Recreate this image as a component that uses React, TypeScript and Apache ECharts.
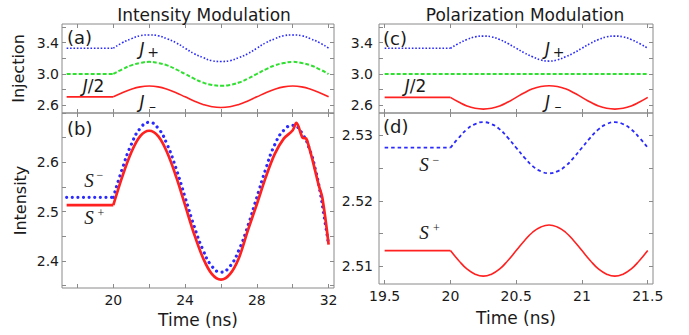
import React, { useEffect, useRef } from "react";
import * as echarts from "echarts";

// ---------- data: panels (a)/(b), time in ns ----------
const timeFlatAB = [17.4, 20];
const timeAB = [20, 20.5, 21, 21.5, 22, 22.5, 23, 23.5, 24, 24.5, 25, 25.5, 26, 26.5, 27, 27.5, 28, 28.5, 29, 29.5, 30, 30.5, 31, 31.5, 32];
const jPlusFlatA = [3.33, 3.33];
const jPlusA = [3.33, 3.4, 3.45, 3.49, 3.5, 3.49, 3.45, 3.4, 3.33, 3.26, 3.21, 3.17, 3.16, 3.17, 3.21, 3.26, 3.33, 3.4, 3.45, 3.49, 3.5, 3.49, 3.45, 3.4, 3.33];
const jHalfFlatA = [3.0, 3.0];
const jHalfA = [3.0, 3.06, 3.11, 3.14, 3.155, 3.14, 3.11, 3.06, 3.0, 2.94, 2.89, 2.86, 2.85, 2.86, 2.89, 2.94, 3.0, 3.06, 3.11, 3.14, 3.155, 3.14, 3.11, 3.06, 3.0];
const jMinusFlatA = [2.707, 2.707];
const jMinusA = [2.707, 2.76, 2.805, 2.835, 2.845, 2.835, 2.805, 2.76, 2.707, 2.654, 2.609, 2.58, 2.57, 2.58, 2.609, 2.654, 2.707, 2.76, 2.805, 2.835, 2.845, 2.835, 2.805, 2.76, 2.707];

const sMinusFlatB = [2.529, 2.529];
const timeSMinusB = [20, 20.5, 21, 21.5, 22, 22.5, 23, 23.5, 24, 24.5, 25, 25.5, 26, 26.5, 27, 27.5, 28, 28.5, 29, 29.5, 30, 30.5, 31, 31.25, 31.5, 31.75, 32];
const sMinusB = [2.529, 2.587, 2.636, 2.669, 2.681, 2.669, 2.636, 2.587, 2.529, 2.471, 2.422, 2.389, 2.377, 2.389, 2.422, 2.471, 2.529, 2.587, 2.636, 2.665, 2.675, 2.66, 2.62, 2.587, 2.545, 2.49, 2.433];
const sPlusFlatB = [2.513, 2.513];
const timeSPlusB = [20, 20.5, 21, 21.5, 22, 22.5, 23, 23.5, 24, 24.5, 25, 25.5, 26, 26.5, 27, 27.5, 28, 28.5, 29, 29.5, 30, 30.2, 30.55, 30.75, 30.9, 31.1, 31.35, 31.45, 31.65, 32];
const sPlusB = [2.513, 2.571, 2.62, 2.653, 2.664, 2.653, 2.62, 2.571, 2.513, 2.455, 2.406, 2.373, 2.362, 2.373, 2.406, 2.462, 2.515, 2.57, 2.617, 2.648, 2.665, 2.68, 2.65, 2.648, 2.632, 2.605, 2.568, 2.553, 2.528, 2.433];

// ---------- data: panels (c)/(d) ----------
const timeFlatCD = [19.5, 20];
const timeCD = [20, 20.0625, 20.125, 20.1875, 20.25, 20.3125, 20.375, 20.4375, 20.5, 20.5625, 20.625, 20.6875, 20.75, 20.8125, 20.875, 20.9375, 21, 21.0625, 21.125, 21.1875, 21.25, 21.3125, 21.375, 21.4375, 21.5];
const jPlusFlatC = [3.33, 3.33];
const jPlusC = [3.33, 3.39, 3.44, 3.475, 3.485, 3.475, 3.44, 3.39, 3.33, 3.27, 3.22, 3.18, 3.165, 3.18, 3.22, 3.27, 3.33, 3.39, 3.44, 3.475, 3.485, 3.475, 3.44, 3.39, 3.33];
const timeHalfC = [19.5, 21.5];
const jHalfC = [3.0, 3.0];
const jMinusFlatC = [2.7, 2.7];
const jMinusC = [2.7, 2.64, 2.59, 2.56, 2.55, 2.56, 2.59, 2.64, 2.7, 2.76, 2.81, 2.84, 2.85, 2.84, 2.81, 2.76, 2.7, 2.64, 2.59, 2.56, 2.55, 2.56, 2.59, 2.64, 2.7];
const sMinusFlatD = [2.5281, 2.5281];
const sMinusD = [2.5281, 2.5296, 2.5309, 2.5317, 2.532, 2.5317, 2.5309, 2.5296, 2.5281, 2.5266, 2.5253, 2.5245, 2.5242, 2.5245, 2.5253, 2.5266, 2.5281, 2.5296, 2.5309, 2.5317, 2.532, 2.5317, 2.5309, 2.5296, 2.5281];
const sPlusFlatD = [2.5124, 2.5124];
const sPlusD = [2.5124, 2.5109, 2.5096, 2.5088, 2.5085, 2.5088, 2.5096, 2.5109, 2.5124, 2.5139, 2.5152, 2.516, 2.5163, 2.516, 2.5152, 2.5139, 2.5124, 2.5109, 2.5096, 2.5088, 2.5085, 2.5088, 2.5096, 2.5109, 2.5124];

// ---------- ticks / labels ----------
const xTicksAB = [18, 20, 22, 24, 26, 28, 30, 32];
const xLabelsAB = [20, 24, 28, 32];
const xTicksCD = [19.5, 20, 20.5, 21, 21.5];
const xLabelsCD = [19.5, 20, 20.5, 21, 21.5];
const yTicksAC = [2.6, 2.8, 3.0, 3.2, 3.4, 3.6];
const yLabelsAC = [2.6, 3.0, 3.4];
const yTicksB = [2.35, 2.4, 2.45, 2.5, 2.55, 2.6, 2.65, 2.7];
const yLabelsB = [2.4, 2.5, 2.6];
const yTicksD = [2.51, 2.515, 2.52, 2.525, 2.53];
const yLabelsD = [2.51, 2.52, 2.53];

const SANS = "'DejaVu Sans', sans-serif";
const SERIF = "'Liberation Serif', 'DejaVu Serif', serif";
const RED = "#ff2020";
const BLUE = "#2a2aff";
const GREEN = "#30e030";
const FRAME = "#8a8a8a";
const TXT = "#1a1a1a";

function pairs(xs: number[], ys: number[]) {
  return xs.map((x, i) => [x, ys[i]]);
}

function line(g: number, xs: number[], ys: number[], color: string, width: number, type: any, smooth: any, cap = "butt") {
  return {
    type: "line",
    xAxisIndex: 2 * g,
    yAxisIndex: 2 * g,
    data: pairs(xs, ys),
    symbol: "none",
    showSymbol: false,
    smooth,
    silent: true,
    lineStyle: { color, width, type, cap },
  };
}

const tickStyle = (vals: number[]) => ({
  show: true,
  inside: true,
  length: 4,
  customValues: vals,
  lineStyle: { color: FRAME, width: 1 },
});

function xAxis(g: number, min: number, max: number, ticks: number[], labels: number[] | null, position: string, name?: string, nameGap?: number) {
  return {
    type: "value",
    gridIndex: g,
    position,
    min,
    max,
    axisLine: { show: false },
    splitLine: { show: false },
    axisTick: tickStyle(ticks),
    axisLabel: labels
      ? { show: true, customValues: labels, fontSize: 14, fontFamily: SANS, color: TXT, margin: 5, formatter: (v: number) => String(v) }
      : { show: false },
    name: name || "",
    nameLocation: "middle",
    nameGap: nameGap || 0,
    nameTextStyle: { fontSize: 17, fontFamily: SANS, color: TXT },
  };
}

function yAxis(g: number, min: number, max: number, ticks: number[], labels: number[] | null, position: string, margin: number, fmt?: (v: number) => string, name?: string, nameGap?: number) {
  return {
    type: "value",
    gridIndex: g,
    position,
    min,
    max,
    axisLine: { show: false },
    splitLine: { show: false },
    axisTick: tickStyle(ticks),
    axisLabel: labels
      ? { show: true, customValues: labels, fontSize: 14, fontFamily: SANS, color: TXT, margin, formatter: fmt }
      : { show: false },
    name: name || "",
    nameLocation: "middle",
    nameGap: nameGap || 0,
    nameTextStyle: { fontSize: 16, fontFamily: SANS, color: TXT },
  };
}

function txt(text: string, x: number, y: number, size: number, opts: any = {}) {
  return {
    type: "text",
    x,
    y,
    silent: true,
    style: {
      text,
      fontSize: size,
      fontFamily: opts.family || SANS,
      fontStyle: opts.italic ? "italic" : "normal",
      fill: TXT,
      align: opts.align || "center",
      textAlign: opts.align || "center",
      verticalAlign: "middle",
      textVerticalAlign: "middle",
      rich: opts.rich,
    },
  };
}

export default function App() {
  const ref = useRef<HTMLDivElement>(null);
  useEffect(() => {
    if (!ref.current) return;
    const chart = echarts.init(ref.current, null, { renderer: "svg" });
    const xA = [17.14, 32.3];
    const xC = [19.457, 21.54];
    const yA = [2.5, 3.64];
    const yB = [2.345, 2.7];
    const yD = [2.5073, 2.5334];
    const f1 = (v: number) => v.toFixed(1);
    const f2 = (v: number) => v.toFixed(2);

    const option: any = {
      animation: false,
      grid: [
        { left: 62, top: 24, width: 272, height: 89, show: true, borderColor: FRAME, borderWidth: 1 },
        { left: 62, top: 113, width: 272, height: 175, show: true, borderColor: FRAME, borderWidth: 1 },
        { left: 379, top: 24, width: 274, height: 89, show: true, borderColor: FRAME, borderWidth: 1 },
        { left: 379, top: 113, width: 274, height: 171, show: true, borderColor: FRAME, borderWidth: 1 },
      ],
      xAxis: [
        xAxis(0, xA[0], xA[1], xTicksAB, null, "bottom"),
        xAxis(0, xA[0], xA[1], xTicksAB, null, "top"),
        xAxis(1, xA[0], xA[1], xTicksAB, xLabelsAB, "bottom", "Time (ns)", 21),
        xAxis(1, xA[0], xA[1], xTicksAB, null, "top"),
        xAxis(2, xC[0], xC[1], xTicksCD, null, "bottom"),
        xAxis(2, xC[0], xC[1], xTicksCD, null, "top"),
        xAxis(3, xC[0], xC[1], xTicksCD, xLabelsCD, "bottom", "Time (ns)", 25),
        xAxis(3, xC[0], xC[1], xTicksCD, null, "top"),
      ],
      yAxis: [
        yAxis(0, yA[0], yA[1], yTicksAC, yLabelsAC, "left", 3, f1, "Injection", 36),
        yAxis(0, yA[0], yA[1], yTicksAC, null, "right", 0),
        yAxis(1, yB[0], yB[1], yTicksB, yLabelsB, "left", 3, f1, "Intensity", 34),
        yAxis(1, yB[0], yB[1], yTicksB, null, "right", 0),
        yAxis(2, yA[0], yA[1], yTicksAC, yLabelsAC, "left", 6, f1),
        yAxis(2, yA[0], yA[1], yTicksAC, null, "right", 0),
        yAxis(3, yD[0], yD[1], yTicksD, yLabelsD, "left", 6, f2),
        yAxis(3, yD[0], yD[1], yTicksD, null, "right", 0),
      ],
      series: [
        // (a)
        line(0, timeFlatAB, jPlusFlatA, BLUE, 1.6, [1.6, 1.8], false),
        line(0, timeAB, jPlusA, BLUE, 1.6, [1.6, 1.8], true),
        line(0, timeFlatAB, jHalfFlatA, GREEN, 2, [4, 2], false),
        line(0, timeAB, jHalfA, GREEN, 2, [4, 2], true),
        line(0, timeFlatAB, jMinusFlatA, RED, 1.6, "solid", false),
        line(0, timeAB, jMinusA, RED, 1.6, "solid", true),
        // (b)
        line(1, timeFlatAB, sMinusFlatB, BLUE, 3.2, [0.01, 5.6], false, "round"),
        line(1, timeSMinusB, sMinusB, BLUE, 3.2, [0.01, 5.6], true, "round"),
        line(1, timeFlatAB, sPlusFlatB, RED, 2.7, "solid", false),
        line(1, timeSPlusB, sPlusB, RED, 2.7, "solid", 0.35),
        // (c)
        line(2, timeFlatCD, jPlusFlatC, BLUE, 1.6, [1.6, 1.8], false),
        line(2, timeCD, jPlusC, BLUE, 1.6, [1.6, 1.8], true),
        line(2, timeHalfC, jHalfC, GREEN, 2, [4, 2], false),
        line(2, timeFlatCD, jMinusFlatC, RED, 1.6, "solid", false),
        line(2, timeCD, jMinusC, RED, 1.6, "solid", true),
        // (d)
        line(3, timeFlatCD, sMinusFlatD, BLUE, 1.8, [3.5, 3], false),
        line(3, timeCD, sMinusD, BLUE, 1.8, [3.5, 3], true),
        line(3, timeFlatCD, sPlusFlatD, RED, 1.6, "solid", false),
        line(3, timeCD, sPlusD, RED, 1.6, "solid", true),
      ],
      graphic: [
        txt("Intensity Modulation", 204, 15, 17),
        txt("Polarization Modulation", 525, 15, 17),
        txt("(a)", 67, 37.5, 18, { align: "left" }),
        txt("(b)", 67, 128, 18, { align: "left" }),
        txt("(c)", 383, 38.5, 18, { align: "left" }),
        txt("(d)", 383, 126.5, 18, { align: "left" }),
        // J annotations (a)
        txt("J", 142, 48.5, 17, { italic: true }),
        txt("+", 153, 52, 14),
        txt("{i|J}/2", 93.5, 86, 17, { rich: { i: { fontStyle: "italic", fontSize: 17, fontFamily: SANS, fill: TXT } } }),
        txt("J", 142, 101.5, 17, { italic: true }),
        txt("\u2013", 152.5, 106, 14),
        // J annotations (c)
        txt("J", 547.5, 48.5, 17, { italic: true }),
        txt("+", 558.5, 52, 14),
        txt("{i|J}/2", 415.5, 86, 17, { rich: { i: { fontStyle: "italic", fontSize: 17, fontFamily: SANS, fill: TXT } } }),
        txt("J", 547.5, 101.5, 17, { italic: true }),
        txt("\u2013", 558, 106, 14),
        // S annotations (b)
        txt("S", 89, 180, 19, { italic: true, family: SERIF }),
        txt("\u2212", 100, 175, 12, { family: SERIF }),
        txt("S", 89, 217.5, 19, { italic: true, family: SERIF }),
        txt("+", 101, 213, 12, { family: SERIF }),
        // S annotations (d)
        txt("S", 424, 164, 19, { italic: true, family: SERIF }),
        txt("\u2212", 436, 159.5, 12, { family: SERIF }),
        txt("S", 424, 232.5, 19, { italic: true, family: SERIF }),
        txt("+", 436.5, 228, 12, { family: SERIF }),
      ],
    };
    chart.setOption(option);
    return () => chart.dispose();
  }, []);
  return <div ref={ref} style={{ position: "absolute", left: 0, top: 0, width: 689, height: 335 }} />;
}
